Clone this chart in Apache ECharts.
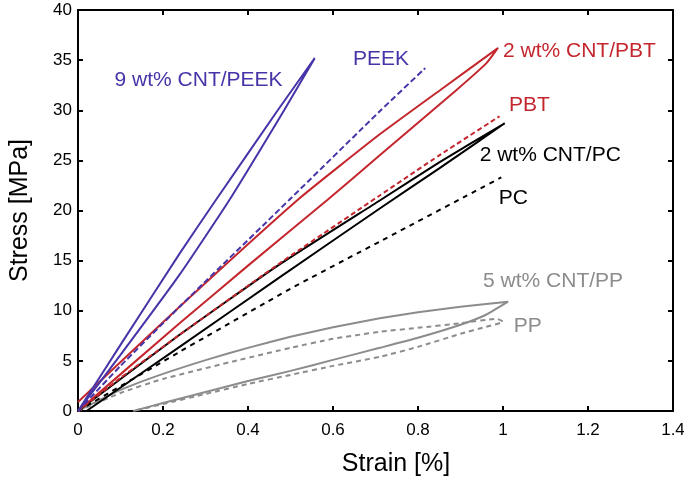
<!DOCTYPE html>
<html>
<head>
<meta charset="utf-8">
<script src="https://cdn.jsdelivr.net/npm/echarts@6/dist/echarts.min.js"></script>
<style>
html,body{margin:0;padding:0;background:#fff;}
#chart{width:684px;height:481px;}
</style>
</head>
<body>
<div id="chart"></div>
<script>
// ---- data (strain %, stress MPa) ----
const peek9Load   = [[0,0],[0.1,6.6],[0.239,15.7],[0.322,20.9],[0.47,30.0],[0.557,35.2]];
const peek9Unload = [[0.557,35.2],[0.485,30.0],[0.357,21.1],[0.239,13.6],[0.1,5.6],[0,0]];
const peekNeat    = [[0,0],[0.1,4.5],[0.239,10.4],[0.498,21.1],[0.71,29.9],[0.817,34.2]];
const pbt2Load    = [[0,0.9],[0.239,10.4],[0.518,21.1],[0.71,27.6],[0.855,32.1],[0.988,36.2]];
const pbt2Unload  = [[0.988,36.2],[0.961,34.7],[0.89,32.0],[0.71,25.5],[0.588,21.1],[0.4,14.5],[0.239,8.75],[0,0]];
const pbtNeat     = [[0,0],[0.1,3.3],[0.239,7.6],[0.47,14.6],[0.71,21.5],[0.85,25.5],[0.992,29.4]];
const pc2Load     = [[0,0],[0.239,7.6],[0.47,14.5],[0.71,21.0],[0.85,24.8],[1.004,28.7]];
const pc2Unload   = [[1.004,28.7],[0.85,24.2],[0.71,20.2],[0.47,13.2],[0.239,6.4],[0.02,0]];
const pcNeat      = [[0,0],[0.239,5.9],[0.5,12.2],[0.71,16.9],[0.996,23.3]];
const pp5Load     = [[0,0],[0.1,2.1],[0.2,3.7],[0.31,5.2],[0.4,6.3],[0.5,7.4],[0.6,8.35],[0.71,9.25],[0.8,9.85],[0.9,10.4],[1.012,10.9]];
const pp5Unload   = [[1.012,10.9],[0.96,9.6],[0.9,8.6],[0.8,7.3],[0.71,6.3],[0.6,5.1],[0.5,4.0],[0.4,3.0],[0.3,1.9],[0.2,0.8],[0.13,0]];
const ppLoad      = [[0,0],[0.1,1.8],[0.2,3.2],[0.38,5.1],[0.5,6.3],[0.6,7.2],[0.71,7.9],[0.8,8.3],[0.9,8.75],[0.985,9.2],[1.0,8.9]];
const ppUnload    = [[1.0,8.9],[0.96,8.4],[0.9,7.7],[0.8,6.4],[0.71,5.4],[0.6,4.5],[0.5,3.6],[0.4,2.7],[0.3,1.7],[0.2,0.7],[0.13,0]];

const labelTexts = ['9 wt% CNT/PEEK','PEEK','2 wt% CNT/PBT','PBT','2 wt% CNT/PC','PC','5 wt% CNT/PP','PP'];
const labelAnchors = [[0.086,33.0],[0.647,35.1],[1.0,35.9],[1.014,30.5],[0.945,25.5],[0.99,21.2],[0.953,12.9],[1.025,8.5]];

const BLUE = '#4634a8', RED = '#c4262d', BLACK = '#000000', GRAY = '#8c8c8c';
const labelColors = [BLUE, BLUE, RED, RED, BLACK, BLACK, GRAY, GRAY];
const FONT = '"Liberation Sans", Arial, Helvetica, sans-serif';

function lineSeries(data, color, type) {
  return {
    type: 'line', data: data, showSymbol: false, symbol: 'none',
    smooth: 0.15, xAxisIndex: 0, yAxisIndex: 0, silent: true,
    lineStyle: { color: color, width: 2, type: type },
    z: 3
  };
}

const series = [
  lineSeries(pp5Load.concat(pp5Unload.slice(1)), GRAY, 'solid'),
  lineSeries(ppLoad.concat(ppUnload.slice(1)), GRAY, [5, 4]),
  lineSeries(pcNeat, BLACK, [5, 5]),
  lineSeries(pc2Load.concat(pc2Unload.slice(1)), BLACK, 'solid'),
  lineSeries(pbtNeat, RED, [5, 3]),
  lineSeries(pbt2Load.concat(pbt2Unload.slice(1)), RED, 'solid'),
  lineSeries(peekNeat, BLUE, [6, 3]),
  lineSeries(peek9Load.concat(peek9Unload.slice(1)), BLUE, 'solid'),
  {
    type: 'scatter', symbolSize: 0, silent: true, z: 5,
    itemStyle: { opacity: 1 },
    data: labelAnchors.map((p, i) => ({
      value: p,
      label: { color: labelColors[i], formatter: labelTexts[i] }
    })),
    label: {
      show: true, position: 'right', distance: 0,
      fontFamily: FONT, fontSize: 21, align: 'left', verticalAlign: 'middle'
    }
  }
];

const axisLine = { show: true, onZero: false, lineStyle: { color: '#000', width: 2 } };
const tickStyle = { show: true, inside: true, length: 5, lineStyle: { color: '#000', width: 2 } };

const option = {
  animation: false,
  backgroundColor: '#fff',
  grid: { left: 78, right: 11, top: 10, bottom: 70, containLabel: false, outerBoundsMode: 'none' },
  xAxis: [
    {
      type: 'value', min: 0, max: 1.4, interval: 0.2, position: 'bottom',
      name: 'Strain [%]', nameLocation: 'middle', nameGap: 41,
      nameTextStyle: { fontFamily: FONT, fontSize: 25, color: '#000', padding: [0, 0, 0, 41] },
      axisLine: axisLine, axisTick: tickStyle, splitLine: { show: false },
      axisLabel: { fontFamily: FONT, fontSize: 17, color: '#000', margin: 11 }
    },
    {
      type: 'value', min: 0, max: 1.4, interval: 0.2, position: 'top',
      axisLine: axisLine, axisTick: tickStyle, splitLine: { show: false },
      axisLabel: { show: false }
    }
  ],
  yAxis: [
    {
      type: 'value', min: 0, max: 40, interval: 5, position: 'left',
      name: 'Stress [MPa]', nameLocation: 'middle', nameGap: 45, nameRotate: 90,
      nameTextStyle: { fontFamily: FONT, fontSize: 25, color: '#000' },
      axisLine: axisLine, axisTick: tickStyle, splitLine: { show: false },
      axisLabel: { fontFamily: FONT, fontSize: 17, color: '#000', margin: 6 }
    },
    {
      type: 'value', min: 0, max: 40, interval: 5, position: 'right',
      axisLine: axisLine, axisTick: tickStyle, splitLine: { show: false },
      axisLabel: { show: false }
    }
  ],
  series: series
};

const chart = echarts.init(document.getElementById('chart'), null, { renderer: 'canvas' });
chart.setOption(option);
</script>
</body>
</html>
